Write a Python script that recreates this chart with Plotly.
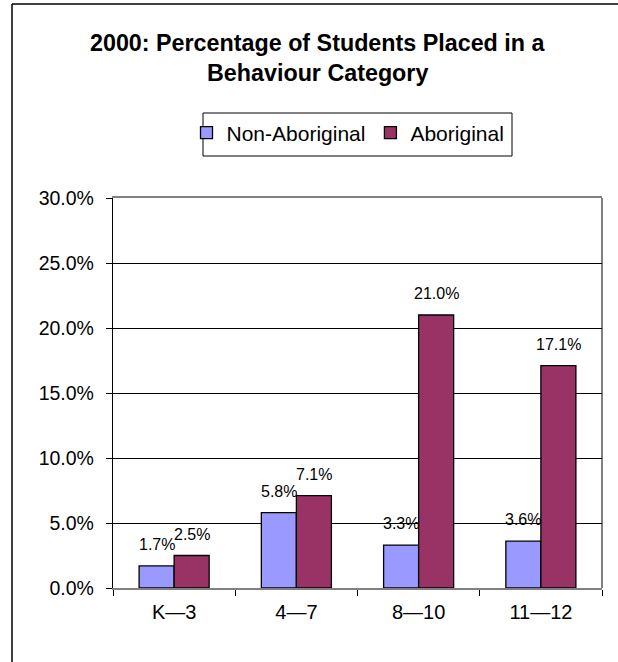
import plotly.graph_objects as go

# Grade bands and the share of students (in %) placed in a behaviour category, 2000
categories = ["K\u20143", "4\u20147", "8\u201410", "11\u201412"]
non_aboriginal = [1.7, 5.8, 3.3, 3.6]
aboriginal = [2.5, 7.1, 21.0, 17.1]
series_names = ["Non-Aboriginal", "Aboriginal"]
y_ticks = [0, 5, 10, 15, 20, 25, 30]
y_tick_labels = [f"{v:.1f}%" for v in y_ticks]

W, H = 618, 662
L, R, T, B = 113, 16, 198, 74
PW, PH = W - L - R, H - T - B
FONT = "Liberation Sans, Arial, sans-serif"

def px_x(p):
    return (p - L) / PW

def px_y(p):
    return (H - B - p) / PH

fig = go.Figure()
colors = ["#9999FF", "#993366"]
for name, vals, col in zip(series_names, [non_aboriginal, aboriginal], colors):
    fig.add_trace(go.Bar(
        name=name, x=categories, y=vals,
        marker=dict(color=col, line=dict(color="black", width=1.3)),
        hoverinfo="skip",
    ))

# value labels above each bar
bar_px = PW / len(categories) * (1 - 0.427) / 2
annotations = []
for vals, shift in [(non_aboriginal, -bar_px / 2), (aboriginal, bar_px / 2)]:
    for c, v in zip(categories, vals):
        annotations.append(dict(
            x=c, y=v, xref="x", yref="y", text=f"{v:.1f}%", showarrow=False,
            xshift=shift, yshift=11, yanchor="bottom", xanchor="center",
            font=dict(family=FONT, size=16, color="black"),
        ))

# two-line chart title
for txt, yc in [("2000: Percentage of Students Placed in a", 43),
                ("Behaviour Category", 73)]:
    annotations.append(dict(
        x=px_x(317), y=px_y(yc), xref="paper", yref="paper", text=f"<b>{txt}</b>",
        showarrow=False, xanchor="center", yanchor="middle",
        font=dict(family=FONT, size=23.3, color="black"),
    ))

shapes = [
    # outer chart frame (top and left edges)
    dict(type="line", xref="paper", yref="paper", x0=px_x(12), x1=px_x(640),
         y0=px_y(4), y1=px_y(4), line=dict(color="black", width=1.5)),
    dict(type="line", xref="paper", yref="paper", x0=px_x(12), x1=px_x(12),
         y0=px_y(4), y1=px_y(680), line=dict(color="black", width=1.5)),
    # right edge of plot area
    dict(type="line", xref="paper", yref="paper", x0=1, x1=1, y0=0, y1=1,
         line=dict(color="#808080", width=2), layer="below"),
    # legend box
    dict(type="rect", xref="paper", yref="paper", x0=px_x(203), x1=px_x(512),
         y0=px_y(156), y1=px_y(113), line=dict(color="black", width=1),
         fillcolor="white", layer="below"),
]

fig.update_layout(
    width=W, height=H,
    margin=dict(l=L, r=R, t=T, b=B, pad=0),
    paper_bgcolor="white", plot_bgcolor="white",
    barmode="group", bargap=0.427, bargroupgap=0,
    showlegend=True,
    legend=dict(
        orientation="h", x=px_x(348), y=px_y(133), xanchor="center", yanchor="middle",
        font=dict(family=FONT, size=21, color="black"),
        bgcolor="rgba(0,0,0,0)", borderwidth=0, traceorder="normal",
    ),
    annotations=annotations,
    shapes=shapes,
    font=dict(family=FONT, color="black"),
)

fig.update_yaxes(
    range=[0, 30], tickvals=y_ticks, ticktext=y_tick_labels,
    showgrid=True, gridcolor="black", gridwidth=1, zeroline=False,
    showline=True, linecolor="black", linewidth=1.3,
    ticks="outside", ticklen=6, tickcolor="black", tickwidth=1,
    ticklabelstandoff=8,
    tickfont=dict(family=FONT, size=19.5, color="black"),
)
fig.update_xaxes(
    showgrid=False, zeroline=False,
    showline=True, linecolor="#808080", linewidth=2, mirror=True,
    ticks="outside", tickson="boundaries", ticklen=6, tickcolor="black", tickwidth=1,
    ticklabelstandoff=5,
    tickfont=dict(family=FONT, size=20, color="black"),
)

fig.write_html("out.html")
